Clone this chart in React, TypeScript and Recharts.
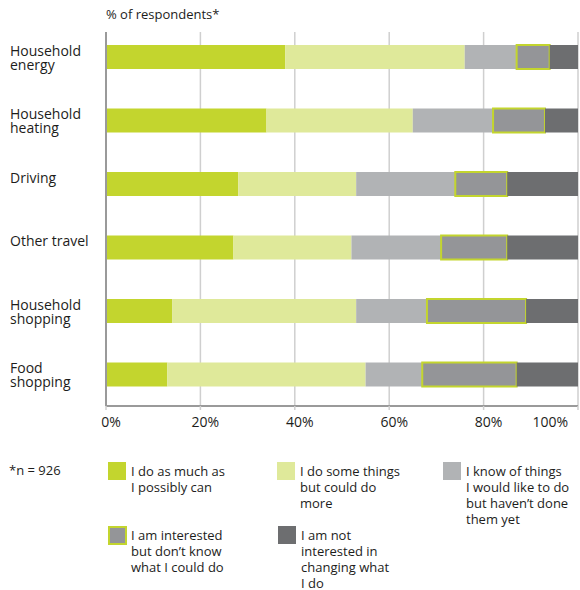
import { BarChart, Bar, XAxis, YAxis, CartesianGrid } from 'recharts'

const categories = [
  'Household\nenergy',
  'Household\nheating',
  'Driving',
  'Other travel',
  'Household\nshopping',
  'Food\nshopping',
]

const doMost = [38, 34, 28, 27, 14, 13]
const doSome = [38, 31, 25, 25, 39, 42]
const knowOf = [11, 17, 21, 19, 15, 12]
const interested = [7, 11, 11, 14, 21, 20]
const notInterested = [6, 7, 15, 15, 11, 13]

const xTicks = [0, 20, 40, 60, 80, 100]

const seriesNames = [
  'I do as much as\nI possibly can',
  'I do some things\nbut could do\nmore',
  'I know of things\nI would like to do\nbut haven\u2019t done\nthem yet',
  'I am interested\nbut don\u2019t know\nwhat I could do',
  'I am not\ninterested in\nchanging what\nI do',
]

const GREEN = '#c3d52e'
const LIGHT_GREEN = '#dfe99a'
const GRAY = '#b1b3b5'
const MID_GRAY = '#949598'
const DARK_GRAY = '#6d6e70'
const FONT = '"Open Sans", sans-serif'
const TEXT = '#1d1d1b'

const data = categories.map((cat, i) => ({
  cat,
  doMost: doMost[i],
  doSome: doSome[i],
  knowOf: knowOf[i],
  interested: interested[i],
  notInterested: notInterested[i],
}))

function CategoryTick({ y, payload }: { x?: number; y?: number; payload?: { value: string } }) {
  const lines = String(payload?.value ?? '').split('\n')
  return (
    <text x={10} y={(y ?? 0) - 1} fill={TEXT} fontSize={14} fontFamily={FONT} textAnchor="start">
      {lines.map((l, i) => (
        <tspan key={i} x={10} dy={i === 0 ? 0 : 14}>{l}</tspan>
      ))}
    </text>
  )
}

function PercentTick({ x, y, payload }: { x?: number; y?: number; payload?: { value: number } }) {
  const v = payload?.value ?? 0
  const last = v === 100
  return (
    <text
      x={(x ?? 0) + (last ? 0 : 5)}
      y={(y ?? 0) + 15}
      fill={TEXT}
      fontSize={14}
      fontFamily={FONT}
      textAnchor={last ? 'end' : 'middle'}
    >
      {v}%
    </text>
  )
}

const swatches = [
  { color: GREEN, left: 108, top: 462 },
  { color: LIGHT_GREEN, left: 277, top: 462 },
  { color: GRAY, left: 443, top: 462 },
  { color: MID_GRAY, left: 108, top: 526, border: true },
  { color: DARK_GRAY, left: 278, top: 526 },
]

export default function App() {
  return (
    <div style={{ position: 'absolute', left: 0, top: 0, width: 580, height: 590, background: '#fff', fontFamily: FONT, color: TEXT }}>
      <div style={{ position: 'absolute', left: 106, top: 5, fontSize: 13, lineHeight: '18px' }}>% of respondents*</div>
      <BarChart
        width={580}
        height={440}
        data={data}
        layout="vertical"
        margin={{ top: 32, right: 2, bottom: 0, left: 0 }}
        barSize={24}
      >
        <CartesianGrid horizontal={false} stroke="#cfcfcf" strokeWidth={1.5} />
        <XAxis
          type="number"
          domain={[0, 100]}
          ticks={xTicks}
          height={34}
          axisLine={{ stroke: '#9a9a9a', strokeWidth: 2 }}
          tickLine={{ stroke: '#cfcfcf', strokeWidth: 1.5 }}
          tickSize={4}
          tick={<PercentTick />}
        />
        <YAxis
          type="category"
          dataKey="cat"
          width={106}
          padding={{ top: -7, bottom: 0 }}
          axisLine={{ stroke: '#9a9a9a', strokeWidth: 2 }}
          tickLine={false}
          tick={<CategoryTick />}
        />
        <Bar dataKey="doMost" stackId="a" fill={GREEN} isAnimationActive={false} />
        <Bar dataKey="doSome" stackId="a" fill={LIGHT_GREEN} isAnimationActive={false} />
        <Bar dataKey="knowOf" stackId="a" fill={GRAY} isAnimationActive={false} />
        <Bar dataKey="interested" stackId="a" fill={MID_GRAY} stroke={GREEN} strokeWidth={2} isAnimationActive={false} />
        <Bar dataKey="notInterested" stackId="a" fill={DARK_GRAY} isAnimationActive={false} />
      </BarChart>
      <div style={{ position: 'absolute', left: 9, top: 462, fontSize: 13, lineHeight: '16px' }}>*n = 926</div>
      {swatches.map((s, i) => (
        <div key={i}>
          <div
            style={{
              position: 'absolute',
              left: s.left,
              top: s.top,
              width: s.border ? 19 : 18,
              height: s.border ? 19 : 18,
              boxSizing: 'border-box',
              background: s.color,
              border: s.border ? `2px solid ${GREEN}` : 'none',
            }}
          />
          <div
            style={{
              position: 'absolute',
              left: s.left + 23,
              top: s.top + 1,
              fontSize: 13,
              lineHeight: '16px',
              whiteSpace: 'pre-line',
            }}
          >
            {seriesNames[i]}
          </div>
        </div>
      ))}
    </div>
  )
}
